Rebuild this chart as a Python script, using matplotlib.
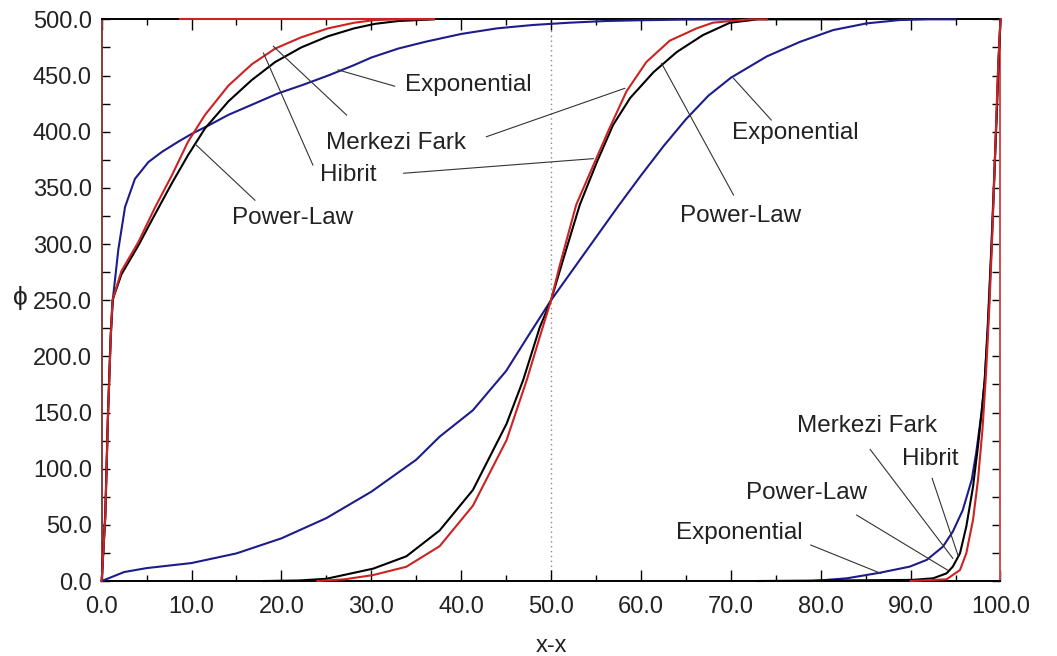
import matplotlib
matplotlib.use("Agg")
import matplotlib.pyplot as plt
from matplotlib.ticker import MultipleLocator, FormatStrFormatter

plt.rcParams['font.family'] = ['Liberation Sans', 'DejaVu Sans']

# ---- left profile (boundary at x = 0) ----
exp_left_x = [0, 0.4, 0.7, 1.0, 1.3, 1.85, 2.6, 3.7, 5.2, 6.7, 8.5, 10, 12, 14.1, 17,
              19.6, 22.5, 25.2, 28, 30, 33, 36, 40, 44, 48, 52, 56, 60, 65, 70]
exp_left_y = [0, 60, 150, 220, 255, 295, 333, 358, 373, 382, 391, 398, 406, 415, 425,
              434, 442, 450, 459, 466, 474, 480, 487, 492, 495, 497, 498.5, 499.2, 499.8, 500]

mf_left_x = [0, 0.4, 0.7, 1.0, 1.2, 2.2, 4.1, 5.9, 7.8, 9.6, 11.5, 14.1, 16.7, 19.3,
             22.2, 25.2, 28.1, 30.4, 33, 36]
mf_left_y = [0, 57, 146, 215, 250, 276, 302, 332, 361, 391, 415, 441, 460, 474,
             484, 492, 497, 499.4, 500, 500]

pl_left_x = [0, 0.4, 0.7, 1.0, 1.2, 2.2, 4.1, 5.9, 7.8, 9.6, 11.5, 14.1, 16.7, 19.3,
             22.2, 25.2, 28.1, 30.4, 33, 37]
pl_left_y = [0, 57, 146, 215, 250, 273, 299, 326, 354, 379, 403, 427, 446, 462,
             475, 485, 492, 496, 498.5, 500]

mf_cap_x = [8.7, 37.0]
mf_cap_y = [500, 500]

# ---- central profile (crossing at x = 50) ----
exp_mid_x = [0, 2.5, 5, 10, 15, 20, 25, 30, 35, 37.6, 41.3, 45, 47.6, 50, 52.5, 55,
             57.5, 60, 62.5, 65, 67.5, 70, 74, 77.7, 81.4, 85.1, 88.8, 92, 95]
exp_mid_y = [0, 8, 11.5, 16, 24.6, 38, 56, 79.5, 108, 128.5, 152, 187, 220, 250, 278, 306,
             334, 361, 387, 411, 432, 448, 467, 480, 490.5, 496.4, 499.4, 500, 500]

mf_mid_x = [24, 27, 30.2, 33.9, 37.6, 41.3, 45.05, 47.3, 48.75, 50, 51, 52.8, 54.7,
            56.5, 58.4, 60.6, 63.2, 66.2, 68, 72, 74]
mf_mid_y = [0, 1.5, 5.3, 12.7, 31, 67, 125.5, 179, 217.5, 250, 282, 335, 370,
            403, 436, 462, 481, 492, 497, 500, 500]

pl_mid_x = [18, 22, 25, 30.2, 33.9, 37.6, 41.3, 45.05, 46.9, 48.75, 50, 51.3, 53.2, 55.1,
            56.9, 58.8, 61.4, 64, 66.9, 69.9, 73, 82]
pl_mid_y = [0, 0.5, 2, 11, 22, 45, 81, 140, 179, 226, 250, 285, 335, 373,
            406, 430, 453, 471, 486, 497, 500, 500]

# ---- right profile (boundary at x = 100) ----
exp_right_x = [79, 82.9, 86.6, 89.9, 91.8, 93.6, 94.7, 95.8, 96.8, 97.3, 97.9, 98.25,
               98.6, 99.0, 99.3, 99.6, 99.8, 100]
exp_right_y = [0, 2.4, 7.4, 12.8, 18.8, 30.6, 44, 63, 90, 114, 150, 179,
               230, 300, 360, 420, 465, 500]

pl_right_x = [73, 90.2, 92.5, 94, 94.7, 95.5, 96.2, 96.95, 97.5, 97.9, 98.25, 98.6, 99.0,
              99.3, 99.6, 99.8, 100]
pl_right_y = [0, 1, 2.4, 6.8, 12.8, 24.7, 48.5, 84, 120, 150, 179, 225, 295,
              355, 420, 465, 500]

mf_right_x = [90, 94, 95.5, 96.2, 96.95, 97.5, 98.0, 98.4, 98.8, 99.1, 99.4, 99.7, 100]
mf_right_y = [0, 1.5, 9.8, 24.7, 54.5, 90, 135, 185, 250, 310, 380, 450, 500]

x_ticks = [0, 10, 20, 30, 40, 50, 60, 70, 80, 90, 100]
y_ticks = [0, 50, 100, 150, 200, 250, 300, 350, 400, 450, 500]

BLUE = '#1c1c8a'
RED = '#cc2222'
BLACK = '#000000'

fig = plt.figure(figsize=(10.57, 6.56), dpi=100)
ax = fig.add_axes([0.0962, 0.1143, 0.8503, 0.8562])

ax.axvline(50, color='#888888', lw=1.0, ls=(0, (1, 2.5)), zorder=1)

kw = dict(lw=1.5, clip_on=False, zorder=3)
ax.plot(exp_left_x, exp_left_y, color=BLUE, **kw)
ax.plot(exp_mid_x, exp_mid_y, color=BLUE, **kw)
ax.plot(exp_right_x, exp_right_y, color=BLUE, **kw)
ax.plot(pl_left_x, pl_left_y, color=BLACK, **kw)
ax.plot(pl_mid_x, pl_mid_y, color=BLACK, **kw)
ax.plot(pl_right_x, pl_right_y, color=BLACK, **kw)
ax.plot(mf_left_x, mf_left_y, color=RED, **kw)
ax.plot(mf_cap_x, mf_cap_y, color=RED, **kw)
ax.plot(mf_mid_x, mf_mid_y, color=RED, **kw)
ax.plot(mf_right_x, mf_right_y, color=RED, **kw)

ax.set_xlim(0, 100)
ax.set_ylim(0, 500)
ax.xaxis.set_minor_locator(MultipleLocator(5))
ax.yaxis.set_minor_locator(MultipleLocator(25))
ax.set_xticks(x_ticks)
ax.set_yticks(y_ticks)
ax.xaxis.set_major_formatter(FormatStrFormatter('%.1f'))
ax.yaxis.set_major_formatter(FormatStrFormatter('%.1f'))
ax.tick_params(axis='both', which='both', direction='in', top=True, right=True,
               labelsize=17, colors='black')
ax.tick_params(axis='x', which='major', length=8, width=1.0, pad=11)
ax.tick_params(axis='x', which='minor', length=4.5, width=1.0)
ax.tick_params(axis='y', which='both', length=5.5, width=1.0, pad=7)
for lab in ax.get_xticklabels() + ax.get_yticklabels():
    lab.set_color('#222222')

ax.spines['left'].set_color('#8a3a3a')
ax.spines['right'].set_color('#d04a4a')
ax.spines['top'].set_color('black')
ax.spines['bottom'].set_color('black')
for s in ax.spines.values():
    s.set_linewidth(1.4)

ax.set_xlabel('x-x', fontsize=17, color='#222222', labelpad=12)
fig.text(0.019, 0.545, 'ϕ', fontsize=19, color='#222222', ha='center', va='center')

# callout labels: text anchor (left, centre) and leader lines (from, to)
callouts = [
    ('Exponential', (33.7, 441.5), [((32.6, 440.5), (26.3, 455.0))]),
    ('Merkezi Fark', (25.0, 389.5), [((27.25, 414.8), (19.1, 476.0)),
                                     ((42.8, 395.5), (58.2, 438.6))]),
    ('Hibrit', (24.3, 361.4), [((23.5, 370.3), (18.0, 470.0)),
                               ((33.6, 363.0), (54.7, 376.0))]),
    ('Power-Law', (14.5, 323.0), [((17.05, 339.0), (10.4, 389.0))]),
    ('Exponential', (70.1, 398.5), [((74.5, 410.4), (70.3, 447.5))]),
    ('Power-Law', (64.3, 325.0), [((70.3, 343.6), (62.3, 460.8))]),
    ('Merkezi Fark', (77.4, 138.0), [((85.5, 117.2), (94.7, 20.2))]),
    ('Hibrit', (89.1, 108.3), [((92.4, 91.4), (95.3, 22.3))]),
    ('Power-Law', (71.7, 78.0), [((84.0, 58.7), (94.1, 9.8))]),
    ('Exponential', (63.9, 42.4), [((78.9, 32.0), (86.7, 6.8))]),
]
for text, pos, leaders in callouts:
    ax.text(pos[0], pos[1], text, fontsize=17.5, color='#222222',
            ha='left', va='center', zorder=5)
    for start, end in leaders:
        ax.plot([start[0], end[0]], [start[1], end[1]], color='#333333', lw=0.8,
                zorder=4)

fig.savefig('out.png', dpi=100)
